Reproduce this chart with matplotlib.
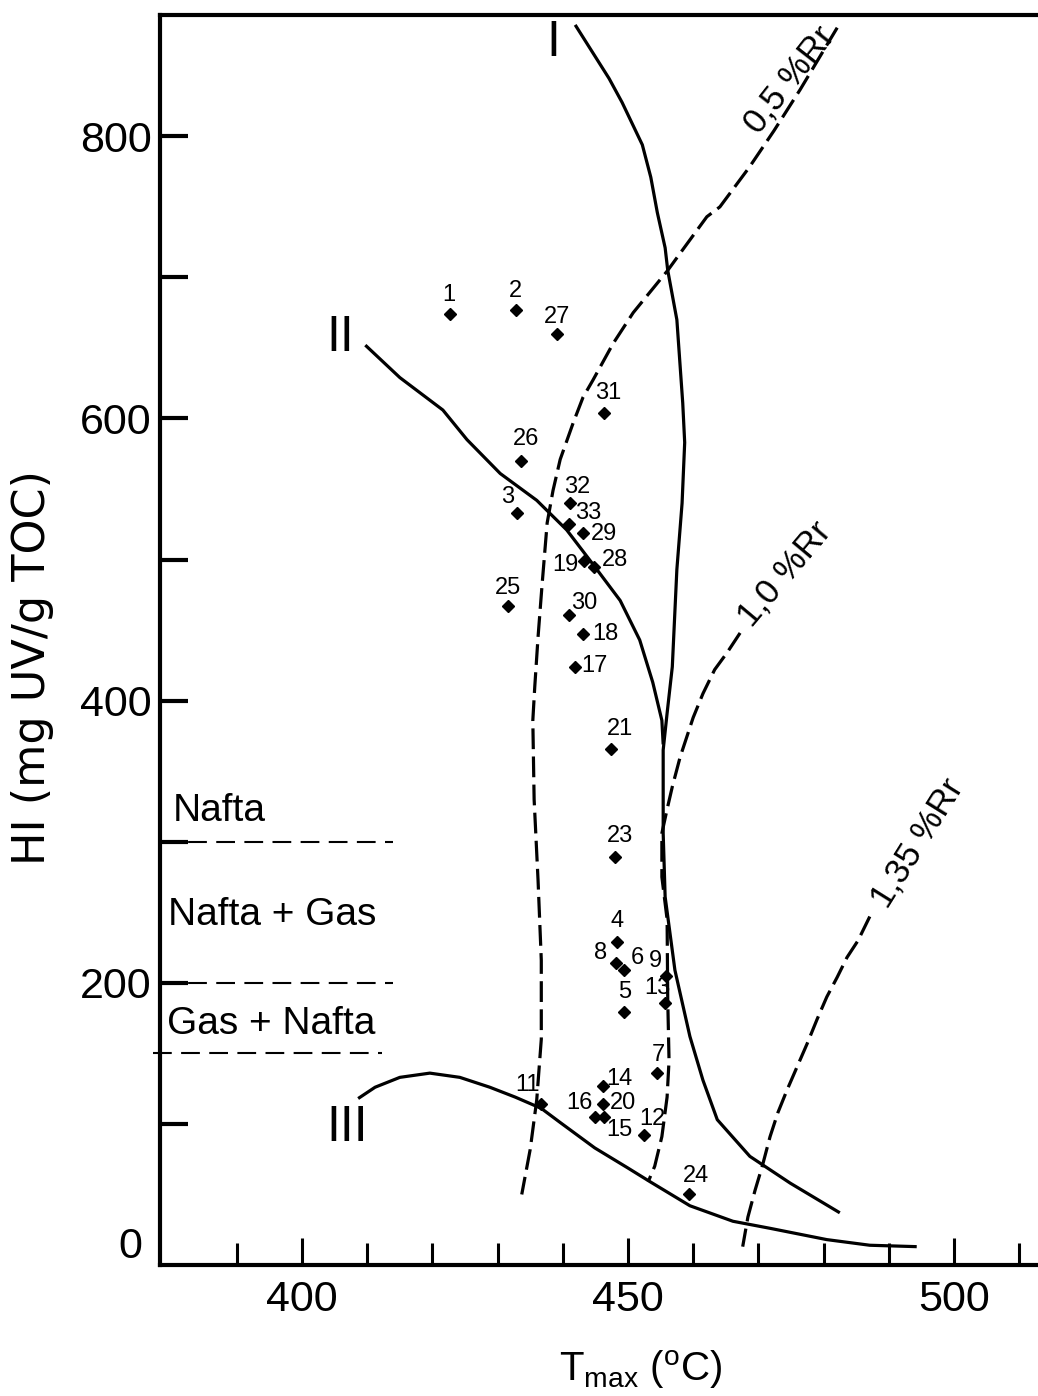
"""
HI - Tmax diagram: kerogen type lines, vitrinite reflectance isolines and samples.
"""

import matplotlib
matplotlib.use("Agg")
import matplotlib.pyplot as plt

plt.rcParams["font.family"] = ["Liberation Sans", "DejaVu Sans"]
plt.rcParams["mathtext.fontset"] = "custom"
plt.rcParams["mathtext.rm"] = "Liberation Sans"
plt.rcParams["mathtext.it"] = "Liberation Sans:italic"

DPI = 100

# ============================================================
# data
# ============================================================
sample_ids = ["1", "2", "27", "31", "26", "3", "32", "33", "29", "19", "28",
              "25", "30", "18", "17", "21", "23", "4", "8", "6", "9", "13",
              "5", "7", "14", "20", "16", "15", "12", "11", "24"]
sample_tmax = [422.7, 432.8, 439.1, 446.3, 433.6, 433.0, 441.1, 441.0, 443.1,
               443.3, 444.8, 431.6, 441.0, 443.1, 441.9, 447.4, 448.0, 448.3,
               448.2, 449.4, 455.8, 455.7, 449.4, 454.5, 446.2, 446.2, 444.9,
               446.3, 452.5, 436.7, 459.4]
sample_hi = [674, 677, 660, 604, 570, 533, 540, 525, 519, 499, 495,
             467, 461, 447, 424, 366, 289, 229, 214, 209, 205, 186,
             179, 136, 127, 114, 105, 105, 92, 114, 50]

# kerogen evolution paths
type1_tmax = [441.9, 447.1, 449.1, 452.2, 453.5, 454.5, 455.7, 456.1, 457.5,
              458.4, 458.7, 458.3, 457.5, 456.8, 456.0, 455.4, 455.4, 455.7,
              457.2, 459.5, 461.5, 463.7, 468.7, 474.9, 482.5]
type1_hi = [879, 841, 824, 794, 771, 746, 721, 705, 670, 611, 583, 540, 493,
            424, 391, 365, 306, 261, 209, 162, 131, 103, 77, 58, 37]

type2_tmax = [409.7, 415.0, 421.6, 425.3, 430.4, 436.0, 440.6, 444.9, 448.8,
              451.8, 453.8, 455.2, 455.4]
type2_hi = [652, 629, 606, 585, 561, 542, 521, 495, 471, 443, 413, 386, 369]

type3_tmax = [408.6, 411.2, 415.0, 419.6, 424.2, 428.8, 432.7, 436.7, 439.6,
              444.9, 449.9, 453.4, 459.5, 466.1, 471.8, 480.5, 487.1, 494.3]
type3_hi = [118, 126, 133, 136, 133, 126, 119, 111, 101, 83, 69, 59, 42, 31,
            26, 18, 14, 13]

# vitrinite reflectance isolines
rr05_tmax = [482.1, 476.4, 472.4, 468.6, 464.1, 462.1, 458.3, 456.1, 450.8,
             447.7, 444.6, 443.1, 441.6, 439.6, 438.5, 437.6, 436.8, 436.2,
             435.7, 435.4, 435.6, 436.2, 436.7, 436.7, 436.0, 435.0, 433.7]
rr05_hi = [877, 833, 804, 778, 750, 743, 719, 705, 675, 653, 627, 615, 597,
           571, 549, 526, 481, 445, 410, 386, 330, 273, 216, 160, 117, 82, 50]

rr10_tmax = [467.2, 465.2, 463.3, 461.5, 460.0, 458.0, 456.8, 456.0, 455.2,
             455.2, 456.0, 456.1, 456.3, 456.0, 455.2, 454.1, 453.1]
rr10_hi = [448, 434, 422, 405, 388, 360, 339, 323, 306, 275, 245, 188, 145,
           119, 91, 70, 59]

rr135_tmax = [487.1, 485.3, 483.6, 482.1, 480.5, 479.0, 477.5, 475.9, 474.4,
              473.0, 471.8, 470.6, 469.5, 468.4, 467.6]
rr135_hi = [247, 230, 218, 204, 190, 174, 157, 140, 124, 108, 91, 70, 53,
            34, 13]

# generation zones (lower HI boundary of each zone)
zone_names = ["Nafta", "Nafta + Gas", "Gas + Nafta"]
zone_limits = [300, 200, 150]

x_major = [400, 450, 500]
x_minor = [390, 410, 420, 430, 440, 460, 470, 480, 490, 510]
y_major = [200, 400, 600, 800]
y_minor = [100, 300, 500, 700]

# label offsets for samples, in pixels (right, down)
label_offsets_px = [(-1, -19), (0, -19), (0, -17), (4, -20), (5, -22),
                    (-10, -16), (7, -16), (19, -11), (21, 1), (-19, 4),
                    (21, -7), (0, -18), (15, -12), (22, 0), (19, -1),
                    (9, -20), (5, -21), (0, -21), (-16, -10), (13, -12),
                    (-10, -15), (-8, -15), (1, -20), (1, -18), (16, -7),
                    (20, -1), (-15, -14), (16, 13), (8, -16), (-14, -19),
                    (7, -18)]


def plot_hi_tmax(figsize=(10.38, 13.96)) -> plt.Figure:
    fig = plt.figure(figsize=figsize, dpi=DPI)
    ax = fig.add_axes([160 / 1038, 131 / 1396, 876 / 1038, 1250 / 1396])
    ax.set_xlim(378.2, 512.6)
    ax.set_ylim(0, 886)

    line_kw = dict(color="black", linewidth=2.3, solid_capstyle="butt")
    dash_kw = dict(color="black", linewidth=2.3, linestyle=(0, (6.5, 2.3)))

    # kerogen types
    ax.plot(type1_tmax, type1_hi, **line_kw)
    ax.plot(type2_tmax, type2_hi, **line_kw)
    ax.plot(type3_tmax, type3_hi, **line_kw)

    # reflectance isolines
    ax.plot(rr05_tmax, rr05_hi, **dash_kw)
    ax.plot(rr10_tmax, rr10_hi, **dash_kw)
    ax.plot(rr135_tmax, rr135_hi, **dash_kw)

    ax.text(438.5, 866, "I", fontsize=36, ha="center", va="center")
    ax.text(405.8, 657, "II", fontsize=36, ha="center", va="center")
    ax.text(406.9, 97, "III", fontsize=36, ha="center", va="center")

    ax.text(474.8, 840, "0,5 %Rr", fontsize=25, rotation=52,
            ha="center", va="center", rotation_mode="anchor")
    ax.text(474.1, 490, "1,0 %Rr", fontsize=25, rotation=50,
            ha="center", va="center", rotation_mode="anchor")
    ax.text(494.5, 299, "1,35 %Rr", fontsize=25, rotation=58,
            ha="center", va="center", rotation_mode="anchor")

    # generation zones
    zone_x0 = [378.2, 378.2, 377.1]
    zone_x1 = [414.0, 414.0, 412.3]
    for hi, x0, x1 in zip(zone_limits, zone_x0, zone_x1):
        ax.plot([x0, x1], [hi, hi], color="black", linewidth=1.5,
                linestyle=(0, (9, 4.5)), clip_on=False)
    zone_text_y = [315, 241, 164]
    zone_text_x = [380.2, 379.4, 379.3]
    for name, tx, ty in zip(zone_names, zone_text_x, zone_text_y):
        ax.text(tx, ty, name, fontsize=28, ha="left", va="baseline")

    # samples
    ax.plot(sample_tmax, sample_hi, linestyle="none", marker="D",
            markersize=6.5, color="black", zorder=5)
    px2pt = 72 / DPI
    for sid, t, hi, (dx, dy) in zip(sample_ids, sample_tmax, sample_hi,
                                    label_offsets_px):
        ax.annotate(sid, (t, hi), xytext=(dx * px2pt, -dy * px2pt),
                    textcoords="offset points", fontsize=17,
                    ha="center", va="center")

    # axes
    for side in ("top", "left", "bottom"):
        ax.spines[side].set_linewidth(3)
    ax.spines["right"].set_visible(False)

    ax.set_xticks(x_major)
    ax.set_xticks(x_minor, minor=True)
    ax.set_yticks(y_major)
    ax.set_yticks(y_minor, minor=True)
    ax.tick_params(axis="x", which="major", direction="in", length=19.5,
                   width=2.2, labelsize=31, pad=11)
    ax.tick_params(axis="x", which="minor", direction="in", length=16,
                   width=2.2)
    ax.tick_params(axis="y", which="both", direction="in", length=20,
                   width=3, labelsize=31, pad=6)
    ax.tick_params(top=False, right=False, which="both")
    ax.text(-0.0205, 0.0145, "0", transform=ax.transAxes, fontsize=31,
            ha="right", va="center")

    ax.set_xlabel(r"T$_{\rm max}$ ($^{\rm o}$C)", fontsize=29, va="center")
    ax.xaxis.set_label_coords(0.549, -0.084)
    ax.set_ylabel("HI (mg UV/g TOC)", fontsize=32, va="center",
                  family=["DejaVu Sans"])
    ax.yaxis.set_label_coords(-0.146, 0.478)
    return fig


def save_chart(fig: plt.Figure, filepath: str) -> str:
    fig.savefig(filepath, dpi=DPI, facecolor="white")
    plt.close(fig)
    return filepath


if __name__ == "__main__":
    save_chart(plot_hi_tmax(), "out.png")
